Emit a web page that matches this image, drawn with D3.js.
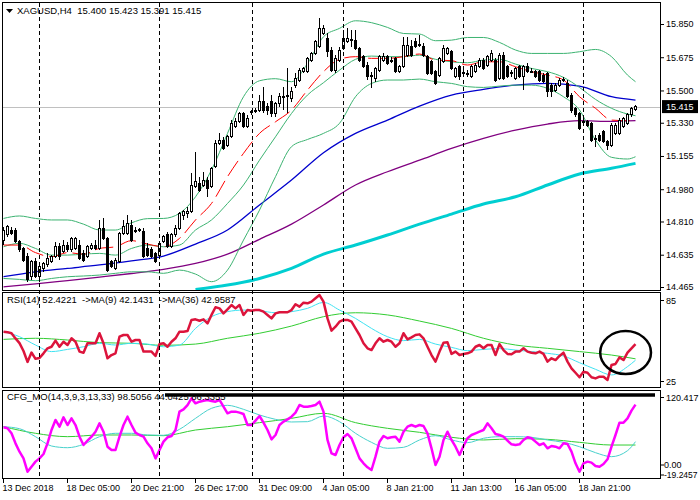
<!DOCTYPE html>
<html>
<head>
<meta charset="utf-8">
<script src="https://cdn.jsdelivr.net/npm/d3@7"></script>
<style>
  body { margin: 0; background: #fff; }
  text { font-family: "Liberation Sans", Arial, sans-serif; fill: #000; }
</style>
</head>
<body>
<script>
// XAGUSD H4 - candles + MAs + bands, RSI window, CFG_MO window
const w = 700;
const h = 500;

// ---- price bars (index 0 = 13 Dec 2018) ----
const barOpen = [
  14.712, 14.739, 14.765, 14.765, 14.703, 14.668, 14.624, 14.519, 14.598, 14.519,
  14.563, 14.581, 14.598, 14.624, 14.677, 14.651, 14.686, 14.660, 14.668, 14.686,
  14.642, 14.624, 14.668, 14.686, 14.668, 14.774, 14.721, 14.598, 14.563, 14.598,
  14.747, 14.747, 14.791, 14.765, 14.765, 14.756, 14.668, 14.660, 14.642, 14.633,
  14.703, 14.739, 14.677, 14.739, 14.774, 14.844, 14.853, 14.862, 14.993, 15.011,
  15.002, 15.028, 14.993, 15.098, 15.221, 15.239, 15.212, 15.256, 15.309, 15.335,
  15.379, 15.309, 15.385, 15.390, 15.397, 15.441, 15.414, 15.441, 15.379, 15.432,
  15.467, 15.467, 15.458, 15.528, 15.555, 15.599, 15.599, 15.660, 15.695, 15.730,
  15.800, 15.774, 15.713, 15.607, 15.660, 15.721, 15.757, 15.768, 15.765, 15.721,
  15.678, 15.634, 15.572, 15.563, 15.607, 15.660, 15.678, 15.655, 15.669, 15.599,
  15.625, 15.686, 15.730, 15.757, 15.739, 15.730, 15.678, 15.651, 15.599, 15.581,
  15.651, 15.695, 15.704, 15.572, 15.625, 15.590, 15.590, 15.572, 15.599, 15.625,
  15.660, 15.634, 15.660, 15.660, 15.563, 15.686, 15.625, 15.592, 15.563, 15.625,
  15.572, 15.625, 15.601, 15.599, 15.599, 15.581, 15.590, 15.528, 15.502, 15.528,
  15.557, 15.537, 15.476, 15.406, 15.379, 15.337, 15.335, 15.327, 15.248, 15.265,
  15.283, 15.230, 15.212, 15.274, 15.274, 15.309, 15.327, 15.371, 15.400
];
const barHigh = [
  14.782, 14.791, 14.782, 14.774, 14.712, 14.677, 14.642, 14.607, 14.616, 14.581,
  14.598, 14.642, 14.633, 14.703, 14.695, 14.712, 14.703, 14.730, 14.730, 14.712,
  14.660, 14.686, 14.695, 14.712, 14.818, 14.826, 14.730, 14.607, 14.616, 14.756,
  14.818, 14.844, 14.818, 14.782, 14.774, 14.774, 14.695, 14.677, 14.651, 14.703,
  14.739, 14.756, 14.747, 14.791, 14.862, 14.870, 14.888, 15.063, 15.177, 15.046,
  15.072, 15.046, 15.098, 15.239, 15.274, 15.256, 15.265, 15.344, 15.353, 15.388,
  15.388, 15.371, 15.397, 15.406, 15.476, 15.520, 15.432, 15.476, 15.441, 15.485,
  15.520, 15.616, 15.520, 15.590, 15.616, 15.625, 15.678, 15.704, 15.765, 15.879,
  15.844, 15.800, 15.730, 15.686, 15.730, 15.818, 15.827, 15.818, 15.818, 15.730,
  15.686, 15.651, 15.599, 15.625, 15.686, 15.695, 15.686, 15.678, 15.678, 15.634,
  15.783, 15.783, 15.765, 15.774, 15.792, 15.748, 15.686, 15.660, 15.607, 15.678,
  15.739, 15.730, 15.713, 15.625, 15.634, 15.607, 15.607, 15.634, 15.642, 15.669,
  15.669, 15.686, 15.713, 15.669, 15.695, 15.704, 15.634, 15.607, 15.625, 15.634,
  15.634, 15.642, 15.616, 15.607, 15.607, 15.590, 15.599, 15.537, 15.537, 15.563,
  15.572, 15.555, 15.485, 15.414, 15.388, 15.353, 15.344, 15.335, 15.265, 15.274,
  15.291, 15.239, 15.327, 15.327, 15.353, 15.362, 15.379, 15.414, 15.423
];
const barLow = [
  14.686, 14.730, 14.739, 14.695, 14.651, 14.598, 14.493, 14.502, 14.510, 14.493,
  14.545, 14.572, 14.589, 14.616, 14.607, 14.642, 14.651, 14.651, 14.660, 14.607,
  14.598, 14.616, 14.660, 14.660, 14.660, 14.712, 14.545, 14.563, 14.554, 14.589,
  14.739, 14.739, 14.703, 14.747, 14.756, 14.616, 14.624, 14.616, 14.589, 14.624,
  14.695, 14.668, 14.668, 14.730, 14.765, 14.818, 14.826, 14.853, 14.984, 14.967,
  14.993, 14.940, 14.984, 15.090, 15.212, 15.186, 15.204, 15.248, 15.300, 15.327,
  15.300, 15.300, 15.371, 15.379, 15.388, 15.379, 15.371, 15.362, 15.362, 15.414,
  15.397, 15.379, 15.441, 15.511, 15.546, 15.590, 15.590, 15.651, 15.686, 15.721,
  15.792, 15.678, 15.599, 15.590, 15.651, 15.713, 15.748, 15.730, 15.713, 15.651,
  15.616, 15.555, 15.511, 15.546, 15.599, 15.651, 15.634, 15.642, 15.590, 15.590,
  15.616, 15.678, 15.678, 15.721, 15.730, 15.678, 15.581, 15.581, 15.528, 15.572,
  15.642, 15.686, 15.607, 15.563, 15.555, 15.572, 15.572, 15.563, 15.590, 15.616,
  15.607, 15.625, 15.651, 15.546, 15.555, 15.555, 15.563, 15.572, 15.555, 15.563,
  15.502, 15.590, 15.590, 15.563, 15.546, 15.537, 15.467, 15.467, 15.493, 15.520,
  15.546, 15.458, 15.379, 15.362, 15.291, 15.318, 15.309, 15.230, 15.204, 15.230,
  15.221, 15.186, 15.204, 15.265, 15.265, 15.300, 15.318, 15.362, 15.391
];
const barClose = [
  14.765, 14.782, 14.747, 14.703, 14.660, 14.607, 14.502, 14.598, 14.519, 14.572,
  14.589, 14.616, 14.624, 14.677, 14.624, 14.686, 14.660, 14.721, 14.721, 14.616,
  14.607, 14.677, 14.686, 14.668, 14.774, 14.721, 14.554, 14.572, 14.607, 14.747,
  14.782, 14.800, 14.712, 14.762, 14.767, 14.624, 14.633, 14.624, 14.598, 14.695,
  14.730, 14.677, 14.739, 14.774, 14.853, 14.862, 14.862, 15.002, 15.019, 14.975,
  15.028, 14.984, 15.090, 15.221, 15.239, 15.195, 15.256, 15.327, 15.335, 15.379,
  15.309, 15.353, 15.388, 15.397, 15.441, 15.397, 15.397, 15.379, 15.432, 15.467,
  15.470, 15.476, 15.493, 15.563, 15.607, 15.616, 15.669, 15.695, 15.757, 15.827,
  15.827, 15.704, 15.607, 15.669, 15.713, 15.774, 15.774, 15.765, 15.721, 15.660,
  15.625, 15.572, 15.581, 15.616, 15.678, 15.678, 15.642, 15.660, 15.599, 15.625,
  15.739, 15.739, 15.686, 15.730, 15.741, 15.686, 15.590, 15.590, 15.537, 15.669,
  15.721, 15.721, 15.616, 15.616, 15.572, 15.592, 15.588, 15.625, 15.634, 15.660,
  15.616, 15.678, 15.695, 15.555, 15.686, 15.563, 15.572, 15.588, 15.616, 15.572,
  15.625, 15.599, 15.597, 15.572, 15.555, 15.546, 15.493, 15.493, 15.528, 15.555,
  15.553, 15.467, 15.397, 15.371, 15.300, 15.333, 15.318, 15.239, 15.246, 15.239,
  15.230, 15.212, 15.318, 15.318, 15.344, 15.353, 15.371, 15.406, 15.415
];

// ---- indicator lines, sampled at these bar indices ----
const sampleBars4 = [0, 4, 8, 12, 16, 20, 24, 28, 32, 36, 40, 44, 48, 52, 56, 60, 64, 68, 72, 76,
  80, 84, 88, 92, 96, 100, 104, 108, 112, 116, 120, 124, 128, 132, 136, 140, 144, 148, 152, 156, 158];
const sampleBars8 = [0, 8, 16, 24, 32, 40, 48, 56, 64, 72, 80, 88, 96, 104, 112, 120, 128, 136, 144, 152, 158];
const slowMaBars = [48, 56, 64, 72, 80, 88, 96, 104, 112, 120, 128, 136, 144, 152, 158];

const maFast = [14.686, 14.686, 14.646, 14.624, 14.646, 14.638, 14.668, 14.677, 14.709, 14.691,
  14.677, 14.721, 14.818, 14.905, 15.046, 15.169, 15.274, 15.335, 15.397, 15.502,
  15.599, 15.664, 15.678, 15.669, 15.669, 15.678, 15.692, 15.660, 15.657, 15.634,
  15.651, 15.651, 15.625, 15.599, 15.581, 15.555, 15.467, 15.406, 15.344, 15.341, 15.348];
const bandUpper = [14.826, 14.839, 14.826, 14.818, 14.818, 14.796, 14.765, 14.765, 14.803, 14.825,
  14.826, 14.853, 14.940, 15.081, 15.274, 15.467, 15.551, 15.562, 15.546, 15.642,
  15.783, 15.827, 15.867, 15.857, 15.832, 15.800, 15.797, 15.762, 15.765, 15.779,
  15.779, 15.753, 15.713, 15.695, 15.695, 15.695, 15.704, 15.716, 15.678, 15.581, 15.546];
const bandMid = [14.677, 14.695, 14.668, 14.633, 14.633, 14.638, 14.642, 14.633, 14.668, 14.686,
  14.677, 14.686, 14.765, 14.818, 14.905, 15.002, 15.133, 15.256, 15.379, 15.476,
  15.541, 15.607, 15.664, 15.681, 15.678, 15.678, 15.686, 15.664, 15.651, 15.646,
  15.660, 15.664, 15.639, 15.616, 15.599, 15.569, 15.516, 15.453, 15.406, 15.376, 15.367];
const bandLower = [14.510, 14.505, 14.498, 14.510, 14.519, 14.523, 14.528, 14.537, 14.545, 14.545,
  14.537, 14.554, 14.533, 14.493, 14.554, 14.712, 14.870, 15.046, 15.204, 15.242,
  15.274, 15.327, 15.467, 15.537, 15.555, 15.555, 15.560, 15.546, 15.537, 15.520,
  15.516, 15.523, 15.528, 15.528, 15.511, 15.467, 15.397, 15.239, 15.148, 15.139, 15.151];
const maBlue = [14.519, 14.545, 14.563, 14.581, 14.603, 14.628, 14.691, 14.765, 14.897, 15.028,
  15.172, 15.274, 15.344, 15.418, 15.476, 15.506, 15.528, 15.537, 15.523, 15.467, 15.449];
const maPurple = [14.466, 14.481, 14.499, 14.517, 14.536, 14.558, 14.589, 14.638, 14.716, 14.796,
  14.897, 15.002, 15.072, 15.133, 15.195, 15.248, 15.291, 15.323, 15.341, 15.337, 15.341];
const maSlow = [14.452, 14.475, 14.510, 14.563, 14.638, 14.686, 14.739, 14.796, 14.849, 14.902,
  14.940, 15.002, 15.060, 15.090, 15.116];

// ---- RSI(14) window ----
const rsi = [
  60.3, 60.0, 59.3, 56.0, 53.0, 48.0, 41.0, 47.0, 43.0, 43.5,
  46.5, 49.7, 50.7, 54.6, 50.7, 53.9, 51.8, 56.1, 53.9, 47.6,
  46.9, 52.9, 52.9, 52.9, 59.3, 52.9, 43.3, 45.4, 46.5, 57.1,
  58.2, 58.2, 53.9, 55.0, 55.0, 47.6, 47.6, 47.6, 44.8, 52.4,
  52.9, 50.7, 53.9, 56.1, 60.3, 60.3, 60.7, 67.8, 68.2, 67.3,
  68.2, 65.6, 71.0, 75.9, 75.2, 72.0, 74.6, 77.3, 75.2, 77.3,
  71.0, 74.1, 73.7, 74.1, 74.1, 73.1, 71.0, 68.8, 72.0, 72.7,
  72.7, 72.7, 74.1, 77.8, 76.3, 78.8, 78.4, 79.5, 81.6, 83.7,
  79.5, 68.8, 61.0, 63.5, 66.7, 67.8, 67.8, 66.7, 62.4, 58.2,
  52.9, 49.7, 48.6, 52.9, 56.1, 53.9, 55.0, 53.9, 50.7, 52.9,
  59.3, 55.4, 56.7, 58.2, 58.6, 56.1, 50.7, 45.4, 41.2, 47.6,
  53.3, 53.5, 46.1, 47.6, 45.4, 46.1, 46.5, 47.6, 50.7, 51.8,
  49.7, 51.8, 51.8, 45.4, 52.4, 48.6, 46.1, 45.9, 47.6, 47.6,
  49.7, 47.6, 46.9, 46.5, 47.6, 46.1, 41.2, 43.3, 42.2, 44.8,
  46.9, 41.2, 36.9, 34.1, 31.2, 34.8, 34.1, 31.2, 30.5, 31.6,
  31.6, 29.5, 39.0, 39.7, 43.9, 42.2, 46.9, 49.7, 52.4
];
const rsiMa9 = [60.3, 57.1, 51.8, 47.6, 49.0, 50.7, 52.9, 51.8, 52.9, 52.4,
  50.7, 51.8, 62.4, 69.9, 73.1, 74.1, 73.7, 72.4, 73.1, 75.2,
  79.0, 74.1, 68.8, 62.4, 57.1, 54.6, 55.4, 52.4, 50.3, 48.2,
  49.0, 49.5, 48.6, 47.6, 46.5, 44.8, 40.5, 36.3, 32.7, 38.0, 42.1];
const rsiMa36 = [55.4, 56.1, 55.0, 53.3, 52.9, 51.6, 52.4, 56.1, 59.3, 63.9,
  69.9, 72.4, 71.0, 67.1, 62.4, 56.1, 51.8, 49.7, 47.6, 45.4, 43.0];
const rsiLegendValues = [52.4221, 42.1431, 42.9587];

// ---- CFG_MO window ----
const cfgMain = [
  62.1, 60.5, 52.5, 36.4, 23.0, 12.3, -9.1, -1.1, 7.0, 12.3,
  19.3, 36.4, 57.8, 73.9, 63.1, 78.1, 65.8, 76.5, 65.8, 47.1,
  33.7, 40.7, 47.1, 55.1, 68.5, 55.1, 31.0, 25.7, 25.7, 47.1,
  65.8, 79.2, 65.8, 53.5, 49.8, 47.1, 36.4, 28.4, 12.3, 25.7,
  39.1, 46.1, 48.2, 57.8, 87.3, 91.0, 97.9, 108.6, 100.6, 103.3,
  104.9, 106.0, 104.4, 103.3, 106.0, 95.3, 84.6, 87.3, 87.3, 85.7,
  83.5, 65.8, 65.8, 72.8, 80.3, 69.6, 57.8, 42.8, 49.8, 65.8,
  71.2, 74.9, 79.2, 85.7, 97.9, 95.3, 95.3, 96.3, 97.9, 103.3,
  87.3, 41.8, 20.4, 17.7, 33.7, 46.1, 51.4, 44.5, 28.4, 12.3,
  4.3, -2.1, -6.4, 15.0, 39.1, 48.2, 44.5, 46.1, 47.1, 39.1,
  55.1, 63.1, 65.8, 63.1, 65.8, 64.2, 52.5, 28.4, 1.6, 15.0,
  41.8, 55.1, 41.8, 31.0, 17.7, 32.1, 44.5, 49.8, 52.5, 55.1,
  57.8, 68.5, 60.5, 51.4, 49.8, 47.1, 40.7, 34.8, 33.7, 34.8,
  41.8, 46.1, 44.5, 39.1, 33.7, 36.4, 28.4, 32.1, 31.0, 28.4,
  36.4, 35.3, 23.0, 4.3, -9.1, 4.3, 7.0, 5.4, 0.0, -1.1,
  3.2, 10.8, 31.0, 49.8, 69.6, 69.6, 76.5, 88.9, 98.5
];
const cfgSignal = [63.1, 59.9, 47.1, 32.1, 29.4, 34.8, 47.1, 52.5, 52.5, 49.8,
  49.3, 58.9, 76.5, 92.6, 97.4, 91.0, 81.9, 74.9, 70.7, 71.2,
  80.3, 71.2, 52.5, 38.0, 28.4, 30.0, 41.8, 48.7, 41.8, 37.5,
  44.5, 47.1, 47.1, 46.1, 41.8, 38.0, 31.0, 21.4, 15.0, 24.6, 39.1];
const cfgSlow = [63.1, 52.5, 47.1, 49.8, 49.8, 48.7, 57.8, 63.1, 69.6, 76.5,
  84.6, 69.6, 60.5, 54.1, 46.1, 41.8, 43.9, 42.8, 38.0, 33.7, 33.7];
const cfgLevelLine = { from: 40.5, to: 163, value: 114 };

// ---- axes / markers ----
const priceTicks = [15.850, 15.675, 15.500, 15.330, 15.155, 14.980, 14.810, 14.635, 14.465];
const timeTickBars = [0, 16, 32, 48, 64, 80, 96, 112, 128, 144];
const timeTickLabels = ["13 Dec 2018", "18 Dec 05:00", "20 Dec 21:00", "26 Dec 17:00", "31 Dec 09:00",
  "4 Jan 05:00", "8 Jan 21:00", "11 Jan 13:00", "16 Jan 05:00", "18 Jan 21:00"];
const separatorBars = [9, 39, 62.25, 85, 115, 145];
const rsiCircle = { bars: [149.3, 162], values: [60.7, 33.3] };

// Create SVG element
let svg = d3.select("body")
  .append("svg")
  .attr("width", w)
  .attr("height", h);

// scales
let x = d3.scaleLinear().domain([0, 158]).range([3, 635]);
let yPrice = d3.scaleLinear().domain([14.465, 15.850]).range([287, 24]);
let yRsi = d3.scaleLinear().domain([25, 85]).range([387, 293]);
let yCfg = d3.scaleLinear().domain([-19.2457, 120.417]).range([478, 391]);

// clip regions for each window
const defs = svg.append("defs");
[["clipMain", 2, 2, 659, 288], ["clipRsi", 2, 293, 659, 94], ["clipCfg", 2, 391, 659, 87]]
  .forEach(c => {
    defs.append("clipPath").attr("id", c[0])
      .append("rect").attr("x", c[1]).attr("y", c[2]).attr("width", c[3]).attr("height", c[4]);
  });

let gMain = svg.append("g").attr("clip-path", "url(#clipMain)");
let gRsi = svg.append("g").attr("clip-path", "url(#clipRsi)");
let gCfg = svg.append("g").attr("clip-path", "url(#clipCfg)");

// period separators (through all windows)
separatorBars.forEach(b => {
  svg.append("line")
    .attr("x1", x(b) + 0.5).attr("x2", x(b) + 0.5)
    .attr("y1", 3).attr("y2", 478)
    .attr("stroke", "#000").attr("stroke-width", 1)
    .attr("stroke-dasharray", "4,3");
});

function drawLine(g, bars, values, yScale, color, width, curve, dash) {
  let line = d3.line()
    .x((d, i) => x(bars[i]) + 0.5)
    .y(d => yScale(d))
    .curve(curve);
  let p = g.append("path")
    .datum(values)
    .attr("d", line)
    .attr("fill", "none")
    .attr("stroke", color)
    .attr("stroke-width", width)
    .attr("stroke-linejoin", "round");
  if (dash) p.attr("stroke-dasharray", dash);
}

const allBars = barClose.map((d, i) => i);

// current price line
gMain.append("line")
  .attr("x1", 2).attr("x2", 661)
  .attr("y1", Math.round(yPrice(barClose[158])) + 0.5)
  .attr("y2", Math.round(yPrice(barClose[158])) + 0.5)
  .attr("stroke", "#c0c0c0").attr("stroke-width", 1);

// main window indicators
drawLine(gMain, slowMaBars, maSlow, yPrice, "#00ced1", 3, d3.curveMonotoneX);
drawLine(gMain, sampleBars8, maPurple, yPrice, "#800080", 1.3, d3.curveMonotoneX);
drawLine(gMain, sampleBars8, maBlue, yPrice, "#0000cd", 1.3, d3.curveMonotoneX);
drawLine(gMain, sampleBars4, bandUpper, yPrice, "#3cb371", 1, d3.curveMonotoneX);
drawLine(gMain, sampleBars4, bandMid, yPrice, "#3cb371", 1, d3.curveMonotoneX);
drawLine(gMain, sampleBars4, bandLower, yPrice, "#3cb371", 1, d3.curveMonotoneX);
drawLine(gMain, sampleBars4, maFast, yPrice, "#ff0000", 1, d3.curveMonotoneX, "18,6");

// candles
let bars = gMain.selectAll("g.bar")
  .data(barClose)
  .enter()
  .append("g")
  .attr("class", "bar")
  .attr("shape-rendering", "crispEdges");

bars.append("line")
  .attr("x1", (d, i) => x(i) + 0.5)
  .attr("x2", (d, i) => x(i) + 0.5)
  .attr("y1", (d, i) => yPrice(barHigh[i]))
  .attr("y2", (d, i) => yPrice(barLow[i]))
  .attr("stroke", "#000");

bars.append("rect")
  .attr("x", (d, i) => x(i) - 0.5)
  .attr("width", 2)
  .attr("y", (d, i) => yPrice(Math.max(barOpen[i], d)))
  .attr("height", (d, i) => Math.max(1, Math.abs(yPrice(barOpen[i]) - yPrice(d))))
  .attr("fill", (d, i) => d >= barOpen[i] ? "#fff" : "#000")
  .attr("stroke", "#000");

// RSI window
drawLine(gRsi, sampleBars8, rsiMa36, yRsi, "#32cd32", 1, d3.curveMonotoneX);
drawLine(gRsi, sampleBars4, rsiMa9, yRsi, "#3fe3f2", 1, d3.curveMonotoneX);
drawLine(gRsi, allBars, rsi, yRsi, "#dc143c", 2.5, d3.curveLinear);

// hand drawn circle
gRsi.append("ellipse")
  .attr("cx", (x(rsiCircle.bars[0]) + x(rsiCircle.bars[1])) / 2)
  .attr("cy", (yRsi(rsiCircle.values[0]) + yRsi(rsiCircle.values[1])) / 2)
  .attr("rx", (x(rsiCircle.bars[1]) - x(rsiCircle.bars[0])) / 2)
  .attr("ry", (yRsi(rsiCircle.values[1]) - yRsi(rsiCircle.values[0])) / 2)
  .attr("fill", "none").attr("stroke", "#000").attr("stroke-width", 2.5);

// CFG window
drawLine(gCfg, sampleBars8, cfgSlow, yCfg, "#32cd32", 1, d3.curveMonotoneX);
drawLine(gCfg, sampleBars4, cfgSignal, yCfg, "#48d1cc", 1, d3.curveMonotoneX);
drawLine(gCfg, allBars, cfgMain, yCfg, "#ff00ff", 2.5, d3.curveLinear);

svg.append("line")
  .attr("x1", x(cfgLevelLine.from)).attr("x2", x(cfgLevelLine.to))
  .attr("y1", yCfg(cfgLevelLine.value)).attr("y2", yCfg(cfgLevelLine.value))
  .attr("stroke", "#000").attr("stroke-width", 3.5);

// window frames
[[2.5, 2.5, 658, 288], [2.5, 292.5, 658, 95], [2.5, 390.5, 658, 88]].forEach(f => {
  svg.append("rect")
    .attr("x", f[0]).attr("y", f[1]).attr("width", f[2]).attr("height", f[3])
    .attr("fill", "none").attr("stroke", "#000").attr("stroke-width", 1);
});

// price axis
svg.append("g")
  .attr("transform", "translate(661,0)")
  .call(d3.axisRight(yPrice).tickValues(priceTicks).tickFormat(d3.format(".3f"))
    .tickSizeInner(3).tickSizeOuter(0).tickPadding(2))
  .call(g => g.select(".domain").remove())
  .attr("font-family", "Liberation Sans, Arial, sans-serif")
  .attr("font-size", 9);

// current price box
let lastY = yPrice(barClose[158]);
svg.append("rect")
  .attr("x", 662).attr("y", lastY - 6.5).attr("width", 36).attr("height", 13)
  .attr("fill", "#000");
svg.append("text")
  .attr("x", 666).attr("y", lastY + 3.5)
  .attr("font-size", 9).style("fill", "#fff")
  .text(d3.format(".3f")(barClose[158]));

// sub-window scale labels
function sideLabel(yPos, txt, dy, xPos, size) {
  svg.append("line").attr("x1", 661).attr("x2", 664)
    .attr("y1", yPos + dy - 3).attr("y2", yPos + dy - 3).attr("stroke", "#000");
  svg.append("text").attr("x", xPos || 666).attr("y", yPos + dy)
    .attr("font-size", size || 9).text(txt);
}
sideLabel(yRsi(85), "85", 10.5);
sideLabel(yRsi(25), "25", -2.5);
sideLabel(yCfg(120.417), "120.417", 9.5);
sideLabel(yCfg(0), "0.00", 2, 664);
sideLabel(yCfg(-19.2457), "-19.2457", 0, 664, 8.5);

// time axis
svg.append("g")
  .attr("transform", "translate(0,479)")
  .call(d3.axisBottom(x).tickValues(timeTickBars).tickFormat((d, i) => timeTickLabels[i])
    .tickSizeInner(4).tickSizeOuter(0).tickPadding(2))
  .call(g => g.select(".domain").remove())
  .call(g => g.selectAll("text").attr("text-anchor", "start").attr("x", -1))
  .attr("font-family", "Liberation Sans, Arial, sans-serif")
  .attr("font-size", 9);

// window captions
svg.append("path").attr("d", "M6,9 L13,9 L9.5,13 Z").attr("fill", "#000");
svg.append("text")
  .attr("x", 17).attr("y", 14)
  .attr("font-size", 9.5)
  .style("white-space", "pre")
  .text("XAGUSD,H4  " + [barOpen[158], barHigh[158], barLow[158], barClose[158]]
    .map(d3.format(".3f")).join(" "));

svg.append("text")
  .attr("x", 7).attr("y", 303)
  .attr("font-size", 9.5)
  .style("white-space", "pre")
  .text("RSI(14) " + rsiLegendValues[0].toFixed(4) + "  ->MA(9) " + rsiLegendValues[1].toFixed(4) +
    "  ->MA(36) " + rsiLegendValues[2].toFixed(4));

svg.append("text")
  .attr("x", 7).attr("y", 400)
  .attr("font-size", 9.5)
  .style("white-space", "pre")
  .text("CFG_MO(14,3,9,3,13,33) 98.5056 44.0425 86.3355");
</script>
</body>
</html>
